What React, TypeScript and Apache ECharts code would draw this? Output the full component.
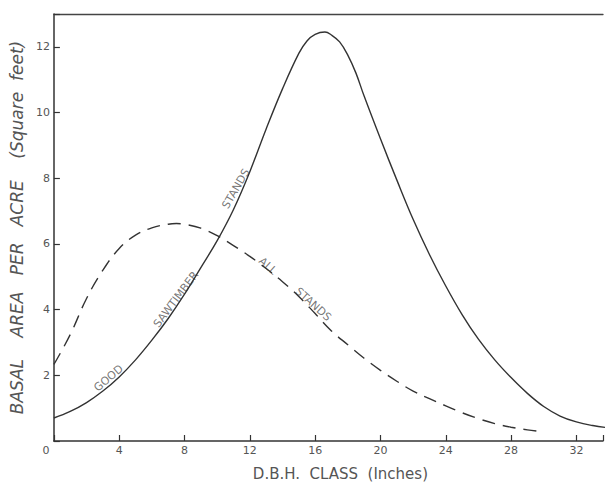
import React, { useEffect, useRef } from "react";
import * as echarts from "echarts";

// D.B.H. class (inches) and basal area per acre (sq ft)
const goodX = [0, 1, 2, 3, 4, 5, 6, 7, 8, 9, 10, 11, 12, 13, 14, 15, 15.5, 16, 16.6, 17, 17.5, 18, 18.5, 19, 20, 21, 22, 23, 24, 25, 26, 27, 28, 29, 30, 31, 32, 33, 34];
const goodY = [0.7, 0.9, 1.17, 1.52, 1.95, 2.47, 3.07, 3.73, 4.47, 5.28, 6.1, 7.05, 8.2, 9.5, 10.72, 11.8, 12.18, 12.38, 12.45, 12.36, 12.15, 11.75, 11.2, 10.5, 9.2, 7.95, 6.75, 5.68, 4.72, 3.85, 3.1, 2.47, 1.93, 1.45, 1.05, 0.76, 0.58, 0.47, 0.4];

const allX = [0, 1, 2, 3, 4, 5, 6, 7, 7.5, 8, 9, 10, 11, 12, 13, 14, 15, 16, 17, 18, 19, 20, 21, 22, 23, 24, 25, 26, 27, 28, 29, 29.8];
const allY = [2.33, 3.24, 4.34, 5.2, 5.86, 6.27, 6.49, 6.6, 6.62, 6.6, 6.48, 6.25, 5.95, 5.62, 5.25, 4.85, 4.4, 3.88, 3.35, 2.93, 2.52, 2.15, 1.82, 1.52, 1.29, 1.07, 0.86, 0.68, 0.53, 0.42, 0.34, 0.29];

const annoText = ["GOOD", "SAWTIMBER", "STANDS", "ALL", "STANDS"];
const annoX = [3.35, 7.48, 11.15, 13.1, 15.88];
const annoY = [1.91, 4.31, 7.68, 5.33, 4.16];
const annoAngle = [40, 53, 60, -42, -42];

const xTicks = [0, 4, 8, 12, 16, 20, 24, 28, 32];
const yTicks = [2, 4, 6, 8, 10, 12];

const ink = "#333";
const textInk = "#555";
const font = "DejaVu Sans";

export default function App() {
  const ref = useRef<HTMLDivElement>(null);
  useEffect(() => {
    if (!ref.current) return;
    const chart = echarts.init(ref.current, null, { renderer: "svg" });
    const goodData = goodX.map((x, i) => [x, goodY[i]]);
    const allData = allX.map((x, i) => [x, allY[i]]);
    const annoData = annoText.map((t, i) => ({
      value: [annoX[i], annoY[i]],
      label: { formatter: t, rotate: annoAngle[i] },
    }));
    const xMax = 33.63;
    chart.setOption({
      animation: false,
      backgroundColor: "#fff",
      grid: { left: 49.5, right: 0, top: 14, bottom: 41 },
      xAxis: [
        {
          type: "value",
          min: 0,
          max: xMax,
          interval: 4,
          name: "D.B.H.  CLASS  (Inches)",
          nameLocation: "middle",
          nameGap: 25,
          nameTextStyle: {
            fontFamily: font,
            fontSize: 15,
            color: textInk,
            padding: [0, 0, 0, 24],
          },
          axisLine: { lineStyle: { color: ink, width: 1.5 } },
          axisTick: { inside: true, length: 6, lineStyle: { color: ink, width: 1.2 } },
          splitLine: { show: false },
          axisLabel: {
            margin: 4,
            fontFamily: font,
            fontSize: 11,
            color: textInk,
            formatter: (v: number) => (v === 0 ? "{o|0}" : xTicks.indexOf(v) >= 0 ? String(v) : ""),
            rich: { o: { padding: [0, 16, 0, 0], fontFamily: font, fontSize: 11, color: textInk } },
          },
        },
        {
          type: "value",
          position: "top",
          min: 0,
          max: xMax,
          axisLine: { show: true, lineStyle: { color: "#444", width: 1.3 } },
          axisTick: { show: false },
          axisLabel: { show: false },
          splitLine: { show: false },
        },
      ],
      yAxis: {
        type: "value",
        min: 0,
        max: 13,
        interval: 2,
        name: "BASAL    AREA   PER   ACRE    (Square  feet)",
        nameLocation: "middle",
        nameGap: 22,
        nameTextStyle: {
          fontFamily: font,
          fontSize: 17,
          fontStyle: "italic",
          color: textInk,
        },
        axisLine: { lineStyle: { color: ink, width: 1.5 } },
        axisTick: { inside: true, length: 6, lineStyle: { color: ink, width: 1.2 } },
        splitLine: { show: false },
        axisLabel: {
          margin: 4,
          fontFamily: font,
          fontSize: 11,
          color: textInk,
          formatter: (v: number) => (yTicks.indexOf(v) >= 0 ? String(v) : ""),
        },
      },
      series: [
        {
          type: "line",
          name: "Good sawtimber stands",
          data: goodData,
          smooth: 0.4,
          showSymbol: false,
          symbol: "none",
          lineStyle: { color: ink, width: 1.4 },
        },
        {
          type: "line",
          name: "All stands",
          data: allData,
          smooth: 0.4,
          showSymbol: false,
          symbol: "none",
          lineStyle: { color: ink, width: 1.4, type: [13, 8] },
        },
        {
          type: "scatter",
          silent: true,
          symbolSize: 0,
          data: annoData,
          label: {
            show: true,
            position: "inside",
            align: "center",
            verticalAlign: "middle",
            fontFamily: font,
            fontSize: 11,
            color: textInk,
          },
        },
      ],
    });
    return () => chart.dispose();
  }, []);
  return (
    <div
      ref={ref}
      style={{ position: "fixed", left: 0, top: 0, width: 606, height: 486 }}
    />
  );
}
